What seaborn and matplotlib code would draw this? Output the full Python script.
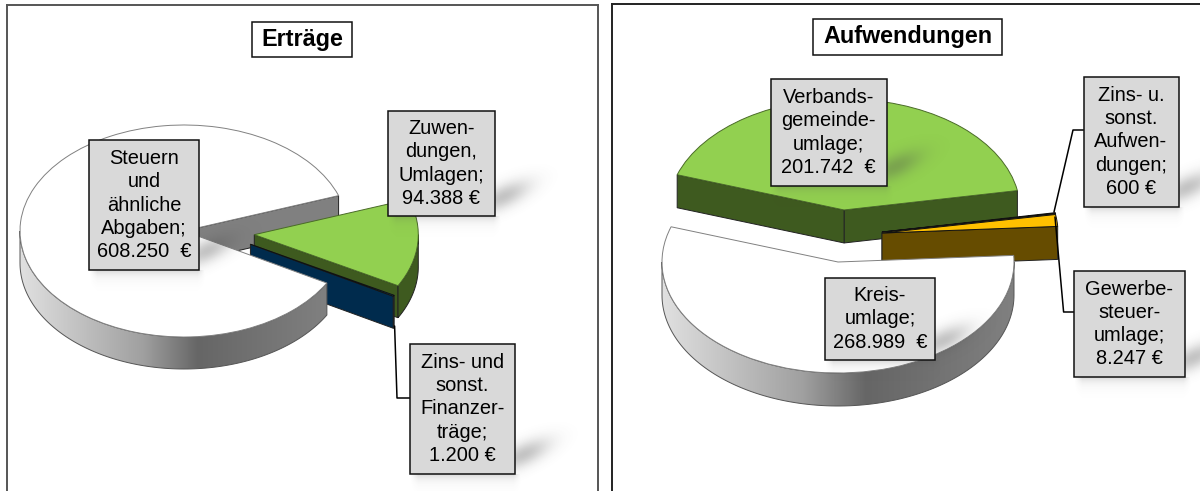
import numpy as np
import seaborn as sns
import matplotlib
matplotlib.use("Agg")
import matplotlib.pyplot as plt
from matplotlib.colors import LinearSegmentedColormap
from matplotlib.patches import Polygon, Rectangle
from matplotlib.lines import Line2D

sns.set_theme(style="white")
plt.rcParams['font.family'] = ['Liberation Sans', 'DejaVu Sans']

# ---------- data ----------
ertraege_title = "Erträge"
ertraege_values = [608250, 1200, 94388]
ertraege_labels = ["Steuern\nund\nähnliche\nAbgaben;\n608.250  €",
                   "Zins- und\nsonst.\nFinanzer-\nträge;\n1.200 €",
                   "Zuwen-\ndungen,\nUmlagen;\n94.388 €"]
aufw_title = "Aufwendungen"
aufw_values = [268989, 8247, 600, 201742]
aufw_labels = ["Kreis-\numlage;\n268.989  €",
               "Gewerbe-\nsteuer-\numlage;\n8.247 €",
               "Zins- u.\nsonst.\nAufwen-\ndungen;\n600 €",
               "Verbands-\ngemeinde-\numlage;\n201.742  €"]

# ---------- style / layout ----------
W, H = 1200, 491
ertraege_top = ["#ffffff", "#00558f", "#92d050"]
ertraege_side = ["#808080", "#002b4d", "#3e5a1f"]
aufw_top = ["#ffffff", "#ffc000", "#5a4300", "#92d050"]
aufw_side = ["#808080", "#664c00", "#664c00", "#3e5a1f"]
wall_cmap = LinearSegmentedColormap.from_list(
    "wall", [(0, "#e0e0e0"), (.4, "#a0a0a0"), (.58, "#666666"), (1, "#808080")])

fig = plt.figure(figsize=(W / 100, H / 100), dpi=100, facecolor="white")


def fx(x): return x / W
def fy(y): return 1 - y / H


def extrude(ax, wedge, depth, side, z, gradient=False):
    cx, cy = wedge.center
    t1, t2 = wedge.theta1, wedge.theta2
    r = wedge.r
    pt = lambda a: (cx + r * np.cos(np.radians(a)), cy + r * np.sin(np.radians(a)))
    # radial faces turned towards the viewer
    faces = []
    if np.sin(np.radians(t1 - 90)) < 0:
        faces.append(t1)
    if np.sin(np.radians(t2 + 90)) < 0:
        faces.append(t2)
    for a in faces:
        x, y = pt(a)
        ax.add_patch(Polygon([(cx, cy), (x, y), (x, y - depth), (cx, cy - depth)],
                             closed=True, fc=side, ec="#222222", lw=.7,
                             zorder=1 if gradient else z))
    # curved wall: parts of the rim on the front half
    for k in (-1, 0, 1, 2):
        lo = max(t1, 180 + 360 * k)
        hi = min(t2, 360 + 360 * k)
        if hi <= lo:
            continue
        a = np.linspace(lo, hi, 120)
        xs = cx + r * np.cos(np.radians(a))
        ys = cy + r * np.sin(np.radians(a))
        verts = np.r_[np.c_[xs, ys], np.c_[xs, ys - depth][::-1]]
        if gradient:
            poly = Polygon(verts, closed=True, fc="none", ec="#555555", lw=.7, zorder=z + .2)
            ax.add_patch(poly)
            grad = np.linspace(0, 1, 256)[None, :]
            im = ax.imshow(grad, extent=(verts[:, 0].min(), verts[:, 0].max(),
                                         verts[:, 1].min(), verts[:, 1].max()),
                           aspect="auto", cmap=wall_cmap, zorder=z + .1)
            im.set_clip_path(poly)
        else:
            ax.add_patch(Polygon(verts, closed=True, fc=side, ec="#222222", lw=.7, zorder=z))


def panel(rect, center, radii, depth_px, values, top, side, start, explode, nudge, order, edges, spines, spine_col):
    x0, x1, ytop, ybot = rect
    ax = fig.add_axes([fx(x0), fy(ybot), fx(x1 - x0), (ybot - ytop) / H], zorder=1)
    rx, ry = radii
    wedges, _ = ax.pie(values, colors=top, startangle=start, explode=explode, radius=1,
                       wedgeprops=dict(linewidth=.7))
    for i, w in enumerate(wedges):
        if i in nudge:
            w.set_center(nudge[i])
        w.set_edgecolor(edges[i])
    depth = depth_px / ry
    for rank, i in enumerate(order):
        z = 2 + rank * 2
        extrude(ax, wedges[i], depth, side[i], z, gradient=(top[i] == "#ffffff"))
        wedges[i].set_zorder(z + 1)
    ax.set_aspect("auto")
    ax.set_xlim((x0 - center[0]) / rx, (x1 - center[0]) / rx)
    ax.set_ylim((center[1] - ybot) / ry, (center[1] - ytop) / ry)
    ax.set_xticks([]); ax.set_yticks([])
    ax.set_frame_on(True)
    for name, s in ax.spines.items():
        s.set_visible(name in spines)
        s.set_color(spine_col)
        s.set_linewidth(1.4)
    return ax


panel((7, 598, 5, 495), (184, 231), (164, 106), 32, ertraege_values, ertraege_top, ertraege_side,
      19.5, [0, 0, .43], {1: (.405, -.125)}, [2, 1, 0],
      ["#808080", "#111111", "#4a6b28"], ("left", "top", "right"), "#555555")
panel((612, 1205, 4, 495), (838, 262), (176, 111), 33, aufw_values, aufw_top, aufw_side,
      161.5, [0, 0, 0, .47], {1: (.25, .261), 2: (.25, .27)}, [3, 2, 1, 0],
      ["#808080", "#111111", "#111111", "#4a6b28"], ("left", "top"), "#222222")

# ---------- label boxes (pixel rectangles: x0, y0, x1, y1) ----------
boxes = [
    ((89, 140, 199, 270), ertraege_labels[0]),
    ((410, 344, 515, 474), ertraege_labels[1]),
    ((388, 111, 495, 216), ertraege_labels[2]),
    ((825, 278, 935, 360), aufw_labels[0]),
    ((1074, 271, 1185, 377), aufw_labels[1]),
    ((1083.5, 77, 1178.5, 207), aufw_labels[2]),
    ((770.5, 79, 887, 186), aufw_labels[3]),
]
titles = [((252, 22, 352, 57), ertraege_title), ((813, 19, 1002, 55), aufw_title)]
leaders = [
    [(394.6, 326), (397, 398), (410, 398)],
    [(1054, 212), (1073, 130), (1083.5, 130)],
    [(1055, 217), (1063.6, 312), (1074, 312)],
]

# soft shadows of the label boxes
sh_ax = fig.add_axes([0, 0, 1, 1], zorder=2)
sh_ax.set_axis_off()
yy, xx = np.mgrid[0:H, 0:W]
alpha = np.zeros((H, W))
for (x0, y0, x1, y1), _ in boxes:
    dx = xx - (x1 + 8)
    dy = yy - (y1 - 20)
    u = (dx * .9 - dy * .43)
    v = (dx * .43 + dy * .9)
    alpha = np.maximum(alpha, .33 * np.exp(-(u / 28) ** 2 - (v / 11) ** 2))
    inside = np.clip((xx - x0) / 8, 0, 1) * np.clip((x1 + 6 - xx) / 8, 0, 1)
    below = np.where(yy >= y1, np.exp(-(yy - y1) / 5.0), 0)
    alpha = np.maximum(alpha, .22 * inside * below)
rgba = np.zeros((H, W, 4))
rgba[..., :3] = .3
rgba[..., 3] = alpha
sh_ax.imshow(rgba, extent=(0, W, H, 0), aspect="auto", interpolation="bilinear")
sh_ax.set_xlim(0, W); sh_ax.set_ylim(H, 0)

for pts in leaders:
    fig.add_artist(Line2D([fx(p[0]) for p in pts], [fy(p[1]) for p in pts],
                          color="black", lw=1.1, zorder=4))


def box(rect, label, fc, weight, size, lw, spacing):
    x0, y0, x1, y1 = rect
    fig.add_artist(Rectangle((fx(x0), fy(y1)), fx(x1 - x0), (y1 - y0) / H, fc=fc, ec="#111111",
                             lw=lw, transform=fig.transFigure, zorder=5))
    fig.text(fx((x0 + x1) / 2), fy((y0 + y1) / 2), label, ha="center", va="center",
             fontsize=size, fontweight=weight, color="black", linespacing=spacing,
             multialignment="center", zorder=6)


for rect, label in boxes:
    box(rect, label, "#d9d9d9", "normal", 14.4, 1.1, 1.28)
for rect, label in titles:
    box(rect, label, "white", "bold", 16.8, 1.1, 1.2)

fig.savefig("out.png", dpi=100)
